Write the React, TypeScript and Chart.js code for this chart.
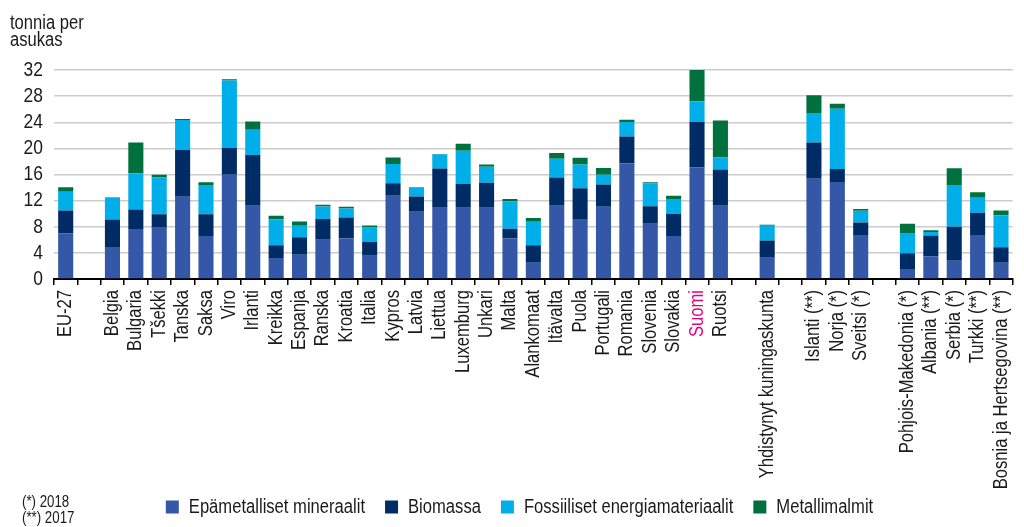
import React, { useEffect, useRef } from "react";
import { Chart, registerables } from "chart.js";

Chart.register(...registerables);

const categories: string[] = [
  "EU-27", "", "Belgia", "Bulgaria", "Tšekki", "Tanska", "Saksa", "Viro", "Irlanti",
  "Kreikka", "Espanja", "Ranska", "Kroatia", "Italia", "Kypros", "Latvia", "Liettua",
  "Luxemburg", "Unkari", "Malta", "Alankomaat", "Itävalta", "Puola", "Portugali",
  "Romania", "Slovenia", "Slovakia", "Suomi", "Ruotsi", "", "Yhdistynyt kuningaskunta", "",
  "Islanti (**)", "Norja (*)", "Sveitsi (*)", "", "Pohjois-Makedonia (*)", "Albania (**)",
  "Serbia (*)", "Turkki (**)", "Bosnia ja Hertsegovina (**)",
];

const nonMetallic: (number | null)[] = [
  7.0, null, 4.9, 7.65, 7.85, 12.6, 6.6, 15.95, 11.2,
  3.2, 3.7, 6.0, 6.2, 3.55, 12.75, 10.3, 10.9,
  10.9, 10.9, 6.25, 2.5, 11.2, 9.2, 11.05,
  17.7, 8.45, 6.6, 17.1, 11.2, null, 3.25, null,
  15.35, 14.85, 6.75, null, 1.55, 3.5,
  2.8, 6.75, 2.5,
];

const biomass: (number | null)[] = [
  3.5, null, 4.2, 3.0, 2.05, 7.15, 3.3, 4.1, 7.8,
  1.95, 2.7, 3.2, 3.2, 2.1, 1.9, 2.35, 6.0,
  3.7, 3.85, 1.45, 2.65, 4.35, 4.7, 3.4,
  4.1, 2.7, 3.4, 6.95, 5.55, null, 2.65, null,
  5.55, 2.0, 1.9, null, 2.4, 3.15,
  5.2, 3.4, 2.35,
];

const fossil: (number | null)[] = [
  2.85, null, 3.3, 5.55, 5.65, 4.6, 4.5, 10.35, 3.85,
  4.0, 1.75, 1.9, 1.4, 2.25, 2.95, 1.35, 2.15,
  5.05, 2.45, 4.2, 3.6, 2.85, 3.65, 1.5,
  2.25, 3.5, 2.25, 3.15, 1.85, null, 2.25, null,
  4.5, 9.2, 1.8, null, 3.1, 0.55,
  6.4, 2.3, 4.9,
];

const metalOres: (number | null)[] = [
  0.7, null, 0.08, 4.7, 0.4, 0.15, 0.4, 0.2, 1.25,
  0.55, 0.65, 0.25, 0.25, 0.3, 1.0, 0.1, 0.1,
  1.05, 0.35, 0.35, 0.6, 0.9, 1.0, 1.05,
  0.35, 0.15, 0.5, 4.8, 5.65, null, 0.15, null,
  2.75, 0.8, 0.25, null, 1.4, 0.25,
  2.55, 0.85, 0.75,
];

const seriesNames = [
  "Epämetalliset mineraalit",
  "Biomassa",
  "Fossiiliset energiamateriaalit",
  "Metallimalmit",
];
const seriesColors = ["#3557A7", "#002C66", "#00AEEA", "#00703C"];
const highlighted = "Suomi";
const yTicks = [0, 4, 8, 12, 16, 20, 24, 28, 32];
const titleLines = ["tonnia per", "asukas"];
const footnotes = ["(*) 2018", "(**) 2017"];

const FONT = "'Liberation Sans', Arial, sans-serif";
const SX = 0.83; // horizontal condensing of all text (condensed typeface look)

const W = 1030;
const H = 527;

export default function App() {
  const ref = useRef<HTMLCanvasElement | null>(null);

  useEffect(() => {
    document.body.style.margin = "0";
    document.body.style.overflow = "hidden";
    document.documentElement.style.overflow = "hidden";
    const canvas = ref.current;
    if (!canvas) return;

    const ctx = canvas.getContext("2d") as CanvasRenderingContext2D;
    const origFill = ctx.fillText.bind(ctx);
    const origMeasure = ctx.measureText.bind(ctx);
    (ctx as any).fillText = (text: string, x: number, y: number, maxWidth?: number) => {
      ctx.save();
      ctx.translate(x, y);
      ctx.scale(SX, 1);
      if (maxWidth !== undefined && maxWidth !== null) origFill(text, 0, 0, maxWidth / SX);
      else origFill(text, 0, 0);
      ctx.restore();
    };
    (ctx as any).measureText = (text: string) => {
      const m = origMeasure(text);
      return {
        width: m.width * SX,
        actualBoundingBoxAscent: m.actualBoundingBoxAscent,
        actualBoundingBoxDescent: m.actualBoundingBoxDescent,
        actualBoundingBoxLeft: m.actualBoundingBoxLeft * SX,
        actualBoundingBoxRight: m.actualBoundingBoxRight * SX,
        fontBoundingBoxAscent: m.fontBoundingBoxAscent,
        fontBoundingBoxDescent: m.fontBoundingBoxDescent,
      };
    };

    const textPlugin = {
      id: "extraText",
      afterLayout(chart: any) {
        // let the rotated category labels extend below the axis box without clipping
        chart.scales.x.bottom = chart.height;
      },
      afterDraw(chart: any) {
        const c = chart.ctx as CanvasRenderingContext2D;
        c.save();
        c.fillStyle = "#1a1a1a";
        c.textAlign = "left";
        c.textBaseline = "alphabetic";
        c.font = `20px ${FONT}`;
        c.fillText(titleLines[0], 10, 29);
        c.fillText(titleLines[1], 10, 46);
        c.font = `16px ${FONT}`;
        c.fillText(footnotes[0], 22, 507);
        c.fillText(footnotes[1], 22, 523);
        c.restore();
      },
    };

    const data = [nonMetallic, biomass, fossil, metalOres];
    const chart = new Chart(canvas, {
      type: "bar",
      data: {
        labels: categories,
        datasets: seriesNames.map((name, i) => ({
          label: name,
          data: data[i],
          backgroundColor: seriesColors[i],
          borderWidth: 0,
          categoryPercentage: 1,
          barPercentage: 0.645,
        })),
      },
      options: {
        responsive: false,
        animation: false,
        devicePixelRatio: 1,
        font: { family: FONT },
        layout: { padding: { top: 70, left: 9, right: 0, bottom: 0 } },
        plugins: {
          legend: {
            position: "bottom",
            labels: {
              boxWidth: 13,
              boxHeight: 13,
              padding: 20,
              color: "#1a1a1a",
              font: { family: FONT, size: 20 },
            },
          },
          tooltip: { enabled: false },
          title: { display: false },
        },
        scales: {
          x: {
            stacked: true,
            afterFit(scale: any) {
              scale.height = 198;
            },
            grid: {
              display: true,
              drawOnChartArea: false,
              drawTicks: true,
              tickLength: 6,
              color: "#000000",
              lineWidth: 1.5,
            },
            border: { display: true, color: "#000000", width: 2 },
            ticks: {
              autoSkip: false,
              maxRotation: 90,
              minRotation: 90,
              padding: 5,
              font: { family: FONT, size: 20 },
              color: (c: any) =>
                categories[c.index] === highlighted ? "#E5007D" : "#1a1a1a",
            },
          },
          y: {
            stacked: true,
            min: 0,
            max: 32,
            afterFit(scale: any) {
              scale.width = 45;
            },
            afterBuildTicks(scale: any) {
              scale.ticks = yTicks.map((v) => ({ value: v }));
            },
            grid: {
              color: "#cccccc",
              lineWidth: 1.5,
              drawTicks: false,
            },
            border: { display: false },
            ticks: {
              autoSkip: false,
              padding: 11,
              font: { family: FONT, size: 21 },
              color: "#1a1a1a",
            },
          },
        },
      },
      plugins: [textPlugin],
    });

    return () => chart.destroy();
  }, []);

  return (
    <div style={{ width: W, height: H, position: "relative", overflow: "hidden" }}>
      <canvas ref={ref} width={W} height={H} style={{ width: W, height: H, display: "block" }} />
    </div>
  );
}
